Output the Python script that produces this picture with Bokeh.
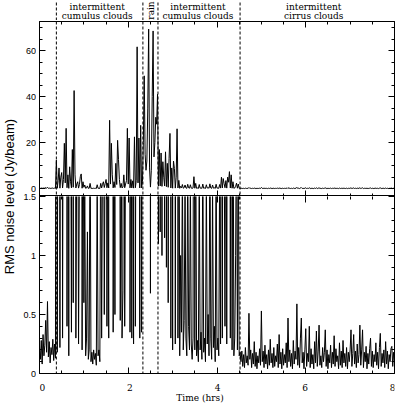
import numpy as np
from bokeh.plotting import figure
from bokeh.models import Range1d, LinearAxis, SingleIntervalTicker, Span, ColumnDataSource
from bokeh.layouts import row, column
from bokeh.embed import file_html
from bokeh.resources import INLINE
from bokeh.core.properties import value

# ---------------- data ----------------
SAMPLE_HRS = 0.02  # one sample every 0.02 h

clear_early = [0.22, 0.12, 0.28, 0.08, 0.33, 0.15, 0.24, 0.45, 0.18, 0.61,
               0.14, 0.27, 0.09, 0.22, 0.16, 0.29, 0.11, 0.25, 0.13]

cumulus_1 = [12.4, 0.18, 3.5, 9.0, 0.22, 5.0, 7.0, 0.3, 4.0, 19.7,
             2.5, 26.2, 0.4, 6.0, 0.15, 9.5, 3.0, 0.35, 17.0, 0.6,
             42.6, 6.0, 0.3, 2.0, 3.0, 0.25, 1.8, 5.2, 6.4, 0.2,
             3.0, 0.6, 1.6, 0.15, 0.3, 1.2, 0.12, 0.2, 2.3, 0.1,
             0.18, 0.08, 0.2, 0.12, 0.17, 0.07, 1.7, 0.15, 0.2, 0.1,
             2.3, 0.3, 1.9, 3.0, 0.5, 2.2, 4.0, 0.4, 2.5, 0.3,
             29.7, 2.0, 19.7, 6.0, 0.35, 3.0, 0.5, 11.0, 1.8, 21.0,
             12.7, 4.0, 0.45, 2.3, 0.3, 0.7, 6.0, 0.4, 2.0, 3.5,
             26.2, 2.0, 22.0, 0.35, 4.0, 0.3, 3.4, 0.25, 22.5, 0.4,
             3.6, 61.6, 2.5, 22.0, 0.3, 27.5, 0.35, 3.0]

rain = [20.0, 49.0, 15.0, 8.0, 12.0, 35.0, 69.3, 9.0, 0.68, 8.0,
        40.0, 68.5, 13.8, 20.0, 31.0, 28.0, 41.0]

cumulus_2 = [1.1, 17.0, 1.2, 15.5, 1.0, 11.7, 5.0, 1.15, 16.0, 0.9,
             11.0, 0.6, 13.0, 24.0, 0.3, 9.0, 0.2, 12.0, 8.8, 0.25,
             5.0, 26.0, 0.3, 3.6, 0.15, 1.0, 0.35, 1.8, 0.2, 0.45,
             1.6, 0.3, 0.15, 1.9, 0.4, 0.2, 1.7, 0.25, 0.12, 0.3,
             5.2, 0.2, 2.3, 0.15, 0.28, 0.1, 1.8, 0.2, 0.35, 0.12,
             2.0, 0.18, 0.3, 0.1, 1.7, 0.25, 0.5, 0.15, 2.1, 0.3,
             0.12, 1.6, 0.22, 0.4, 0.1, 1.9, 0.2, 0.3, 0.15, 1.8,
             0.25, 5.0, 0.3, 4.4, 2.2, 0.4, 3.5, 0.25, 5.0, 2.8,
             7.4, 0.3, 6.0, 0.2, 3.0, 0.15, 0.3, 1.0, 2.4, 0.2,
             2.0, 0.15, 0.18]

cirrus = [0.10, 0.19, 0.06, 0.16, 0.05, 0.22, 0.09, 0.15, 0.07, 0.51,
          0.12, 0.20, 0.05, 0.17, 0.08, 0.27, 0.06, 0.18, 0.04, 0.15,
          0.09, 0.21, 0.07, 0.53, 0.10, 0.19, 0.05, 0.24, 0.08, 0.16,
          0.04, 0.20, 0.07, 0.29, 0.09, 0.17, 0.05, 0.22, 0.06, 0.15,
          0.10, 0.25, 0.05, 0.33, 0.08, 0.18, 0.04, 0.21, 0.07, 0.16,
          0.09, 0.26, 0.05, 0.47, 0.10, 0.20, 0.06, 0.17, 0.04, 0.28,
          0.08, 0.19, 0.12, 0.59, 0.07, 0.22, 0.05, 0.30, 0.47, 0.09,
          0.18, 0.04, 0.20, 0.38, 0.06, 0.17, 0.10, 0.40, 0.05, 0.21,
          0.08, 0.16, 0.04, 0.27, 0.09, 0.36, 0.06, 0.19, 0.41, 0.07,
          0.15, 0.05, 0.22, 0.10, 0.18, 0.37, 0.06, 0.20, 0.04, 0.16,
          0.09, 0.24, 0.05, 0.18, 0.08, 0.32, 0.06, 0.21, 0.10, 0.15,
          0.04, 0.26, 0.07, 0.19, 0.05, 0.28, 0.09, 0.17, 0.06, 0.22,
          0.04, 0.18, 0.10, 0.20, 0.37, 0.06, 0.17, 0.33, 0.08, 0.19,
          0.05, 0.25, 0.09, 0.16, 0.41, 0.07, 0.20, 0.37, 0.05, 0.18,
          0.10, 0.23, 0.04, 0.17, 0.08, 0.21, 0.30, 0.06, 0.19, 0.05,
          0.16, 0.10, 0.26, 0.07, 0.18, 0.04, 0.22, 0.34, 0.06, 0.17,
          0.09, 0.20, 0.05, 0.27, 0.08, 0.19, 0.04, 0.16, 0.10, 0.21,
          0.23, 0.06, 0.18, 0.09]

rms_level = clear_early + cumulus_1 + rain + cumulus_2 + cirrus
time_hrs = np.arange(len(rms_level)) * SAMPLE_HRS

phase_bounds = [0.38, 2.33, 2.67, 4.52]
label_line1 = ["intermittent", "intermittent", "intermittent"]
label_line2 = ["cumulus clouds", "cumulus clouds", "cirrus clouds"]
label_x = [1.30, 3.57, 6.18]
rain_label = ["rain"]
rain_x = [2.52]

x_ticks = [0, 2, 4, 6, 8]
x_tick_labels = ["0", "2", "4", "6", "8"]
top_ticks = [0, 20, 40, 60]
top_tick_labels = ["0", "20", "40", "60"]
bot_ticks = [0, 0.5, 1, 1.5]
bot_tick_labels = ["0", "0.5", "1", "1.5"]
x_title = "Time (hrs)"
x_title_at = 3.6
y_title = "RMS noise level (Jy/beam)"

X_RANGE = (0, 8)
TOP_RANGE = (-3.4, 72.6)
BOT_RANGE = (0, 1.5)

# ---------------- layout constants (pixels) ----------------
LEFT_W = 36
MAIN_W = 360
BL, BR = 3, 2
STRIP_H = 20
TOP_BT, TOP_FRAME, TOP_BB = 1, 175, 0
BOT_BT, BOT_FRAME, BOT_BB = 0, 177, 1
XLAB_H = 29
TOP_FIG_H = TOP_BT + TOP_FRAME + TOP_BB
BOT_FIG_H = BOT_BT + BOT_FRAME + BOT_BB
TOTAL_H = STRIP_H + TOP_FIG_H + BOT_FIG_H + XLAB_H

SERIF = value("DejaVu Serif")
SANS = value("Liberation Sans")
FS = "9px"
DASH = "3 2"

src = ColumnDataSource(dict(t=time_hrs, v=rms_level))


def style_axis(ax, draw_line):
    ax.major_label_text_font_size = "0px"
    ax.major_label_text_color = None
    ax.major_label_standoff = 0
    ax.axis_line_color = "black" if draw_line else None
    ax.axis_line_width = 1
    ax.major_tick_in = 6
    ax.major_tick_out = 0
    ax.minor_tick_in = 3
    ax.minor_tick_out = 0
    ax.major_tick_line_color = "black"
    ax.minor_tick_line_color = "black"


def panel(yr, fig_h, btop, bbot, y_int, y_minor, use_outline):
    p = figure(width=MAIN_W, height=fig_h, x_range=Range1d(*X_RANGE),
               y_range=Range1d(*yr), x_axis_type=None, y_axis_type=None,
               toolbar_location=None, output_backend="svg",
               min_border_left=BL, min_border_right=BR,
               min_border_top=btop, min_border_bottom=bbot)
    p.outline_line_color = "black" if use_outline else None
    p.outline_line_width = 1
    p.background_fill_color = "white"
    for loc in ("below", "above"):
        ax = LinearAxis(ticker=SingleIntervalTicker(interval=2, num_minor_ticks=4))
        style_axis(ax, (not use_outline) and loc == "below")
        p.add_layout(ax, loc)
    for loc in ("left", "right"):
        ax = LinearAxis(ticker=SingleIntervalTicker(interval=y_int, num_minor_ticks=y_minor))
        style_axis(ax, not use_outline)
        p.add_layout(ax, loc)
    for b in phase_bounds:
        p.add_layout(Span(location=b, dimension="height", line_color="black",
                          line_width=1, line_dash=DASH))
    p.line("t", "v", source=src, line_color="black", line_width=1)
    return p


top = panel(TOP_RANGE, TOP_FIG_H, TOP_BT, TOP_BB, 20, 4, True)
bot = panel(BOT_RANGE, BOT_FIG_H, BOT_BT, BOT_BB, 0.5, 5, False)

# label strip above the panels
strip = figure(width=MAIN_W, height=STRIP_H, x_range=Range1d(*X_RANGE),
               y_range=Range1d(0, STRIP_H), x_axis_type=None, y_axis_type=None,
               toolbar_location=None, output_backend="svg",
               min_border_left=BL, min_border_right=BR, min_border_top=0, min_border_bottom=0)
strip.outline_line_color = None
strip.segment(x0=phase_bounds, y0=0, x1=phase_bounds, y1=STRIP_H,
              line_color="black", line_width=1, line_dash=DASH)
strip.text(x=label_x, y=13.5, text=label_line1, text_font=SERIF, text_font_size=FS,
           text_align="center", text_baseline="alphabetic", text_color="black")
strip.text(x=label_x, y=4.5, text=label_line2, text_font=SERIF, text_font_size=FS,
           text_align="center", text_baseline="alphabetic", text_color="black")
strip.text(x=rain_x, y=STRIP_H / 2, text=rain_label, angle=np.pi / 2, text_font=SERIF,
           text_font_size=FS, text_align="center", text_baseline="middle", text_color="black")

# x tick labels and x axis title
px_per_hr = (MAIN_W - BL - BR) / (X_RANGE[1] - X_RANGE[0])
xlab = figure(width=MAIN_W, height=XLAB_H,
              x_range=Range1d(X_RANGE[0] - BL / px_per_hr, X_RANGE[1] + BR / px_per_hr),
              y_range=Range1d(0, XLAB_H), x_axis_type=None, y_axis_type=None,
              toolbar_location=None, output_backend="svg",
              min_border_left=0, min_border_right=0, min_border_top=0, min_border_bottom=0)
xlab.outline_line_color = None
xlab.text(x=x_ticks, y=16, text=x_tick_labels, text_font=SERIF, text_font_size=FS,
          text_align="center", text_baseline="alphabetic", text_color="black")
xlab.text(x=[x_title_at], y=6, text=[x_title], text_font=SERIF, text_font_size=FS,
          text_align="center", text_baseline="alphabetic", text_color="black")

# left column: y tick labels and y axis title, mapped to each panel
top_frame_top = STRIP_H + TOP_BT
top_frame_bot = top_frame_top + TOP_FRAME
bot_frame_top = top_frame_bot + TOP_BB + BOT_BT
bot_frame_bot = bot_frame_top + BOT_FRAME
s_top = (TOP_RANGE[1] - TOP_RANGE[0]) / TOP_FRAME
s_bot = (BOT_RANGE[1] - BOT_RANGE[0]) / BOT_FRAME

left = figure(width=LEFT_W, height=TOTAL_H, x_range=Range1d(0, LEFT_W),
              y_range=Range1d(BOT_RANGE[0] - (TOTAL_H - bot_frame_bot) * s_bot,
                              BOT_RANGE[1] + bot_frame_top * s_bot),
              x_axis_type=None, y_axis_type=None, toolbar_location=None,
              output_backend="svg", min_border_left=0, min_border_right=0,
              min_border_top=0, min_border_bottom=0)
left.extra_y_ranges = {"top": Range1d(TOP_RANGE[0] - (TOTAL_H - top_frame_bot) * s_top,
                                      TOP_RANGE[1] + top_frame_top * s_top)}
left.outline_line_color = None
left.text(x=LEFT_W - 0.5, y=top_ticks, text=top_tick_labels, y_range_name="top",
          text_font=SANS, text_font_size=FS, text_align="right", text_baseline="middle",
          text_color="black")
left.text(x=LEFT_W - 0.5, y=bot_ticks, text=bot_tick_labels,
          text_font=SANS, text_font_size=FS, text_align="right", text_baseline="middle",
          text_color="black")
left.text(x=[9], y=[BOT_RANGE[1]], text=[y_title], angle=np.pi / 2,
          text_font=SANS, text_font_size="13px", text_align="center", text_baseline="middle",
          text_color="black")

layout = row(left, column(strip, top, bot, xlab))
open("out.html", "w").write(file_html(layout, INLINE))
